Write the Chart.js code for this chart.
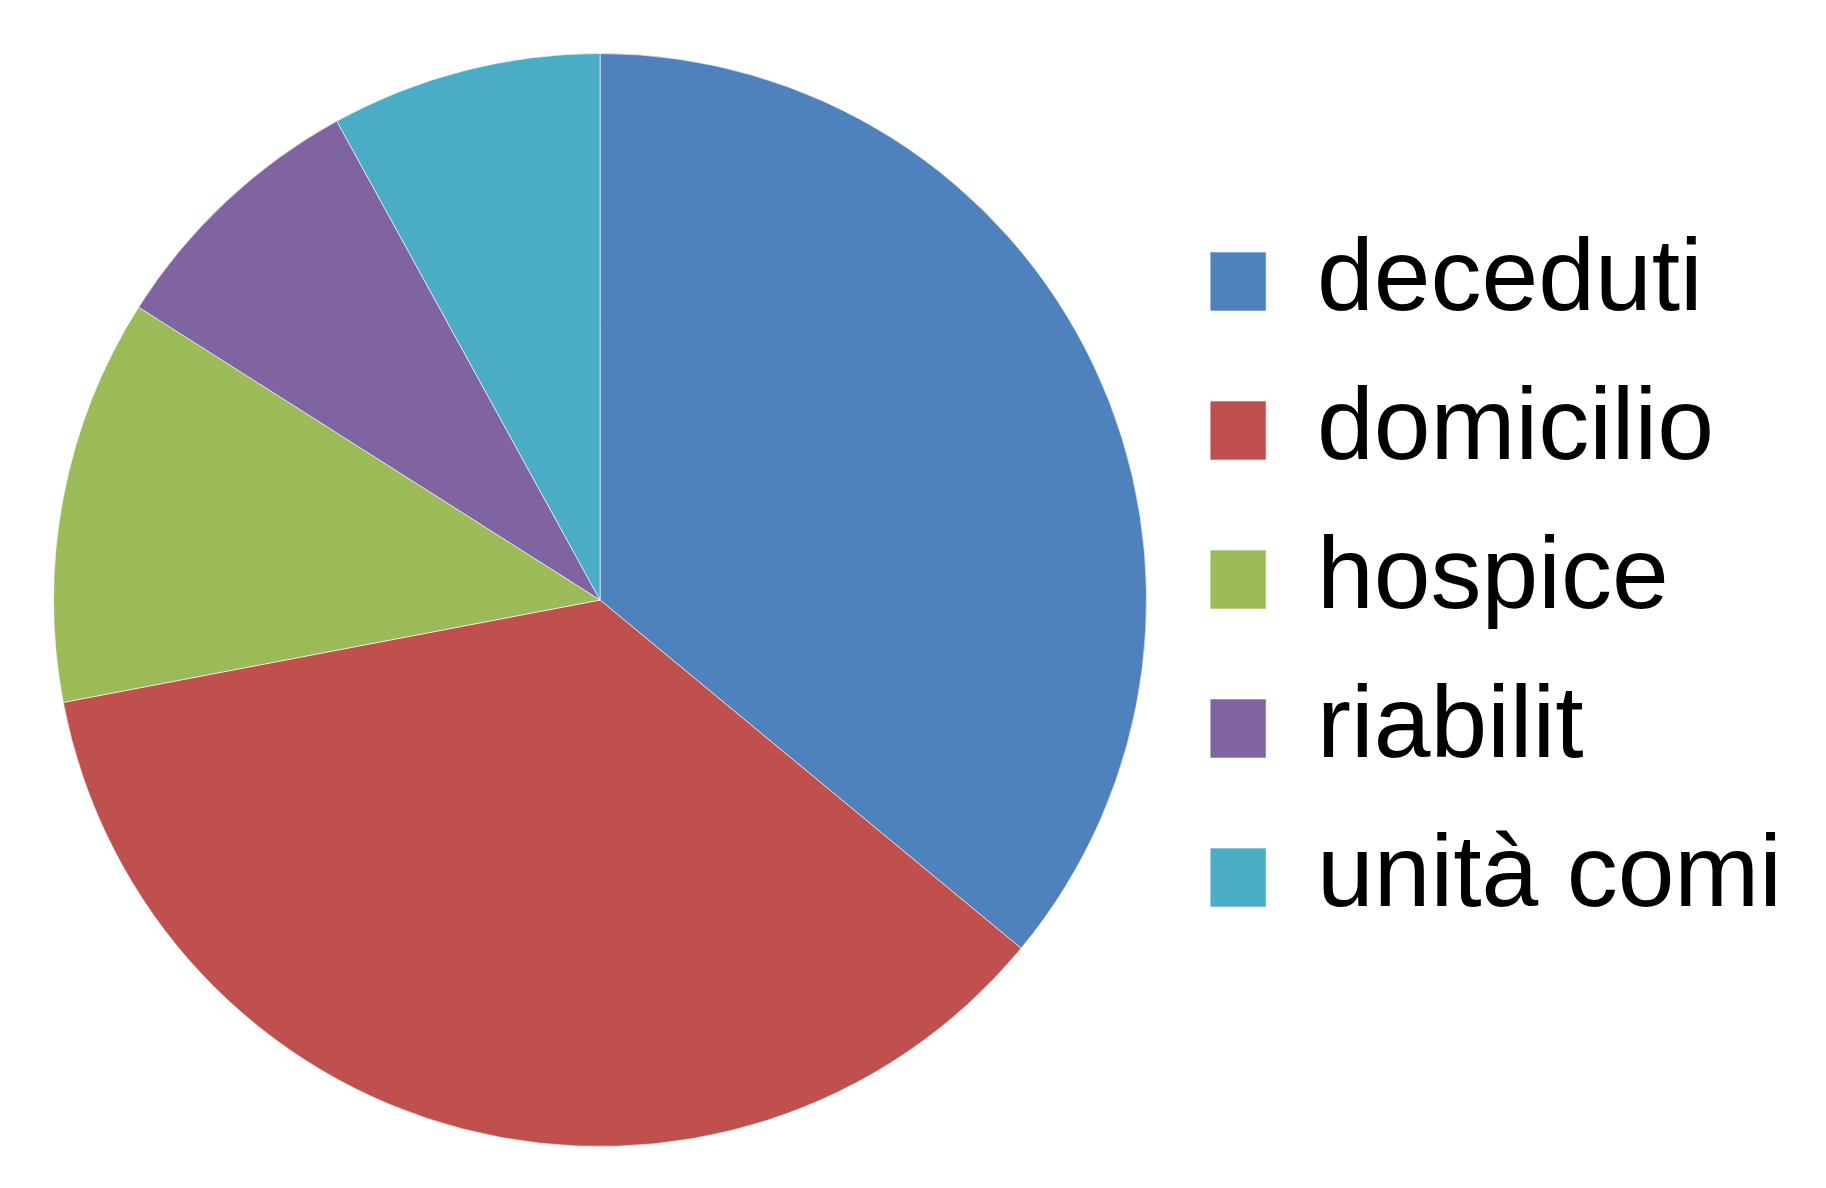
<!DOCTYPE html>
<html>
<head>
<meta charset="utf-8">
<script src="https://cdn.jsdelivr.net/npm/chart.js@4/dist/chart.umd.min.js"></script>
<style>
  html, body { margin:0; padding:0; background:#fff; }
  #wrap { width:1826px; height:1188px; }
</style>
</head>
<body>
<div id="wrap"><canvas id="grafico" width="1826" height="1188"></canvas></div>
<script>
// ===============================
// DATI
// ===============================

const categorie = ["deceduti", "domicilio", "hospice", "riabilit", "unità comi"];
const valori = [9, 9, 3, 2, 2];
const colori = ["#4F81BD", "#C0504D", "#9BBB59", "#8064A2", "#4BACC6"];

// ===============================
// GRAFICO
// ===============================

const ctx = document.getElementById("grafico").getContext("2d");

new Chart(ctx,{
  type:"pie",
  data:{
    labels:categorie,
    datasets:[{
      data:valori,
      backgroundColor:colori,
      borderColor:"rgba(255,255,255,0.6)",
      borderWidth:1
    }]
  },
  options:{
    responsive:false,
    animation:false,
    layout:{
      padding:{ left:37, right:34, top:12, bottom:41 }
    },
    plugins:{
      tooltip:{ enabled:false },
      // spacer above the pie only (not under the legend)
      title:{
        display:true,
        text:" ",
        fullSize:false,
        position:"top",
        font:{ size:10 },
        padding:{ top:0, bottom:29 }
      },
      legend:{
        position:"right",
        align:"center",
        labels:{
          boxWidth:56,
          boxHeight:59,
          padding:47,
          color:"#000",
          font:{ family:"'Liberation Sans', Arial, sans-serif", size:102 }
        }
      }
    }
  }
});
</script>
</body>
</html>
